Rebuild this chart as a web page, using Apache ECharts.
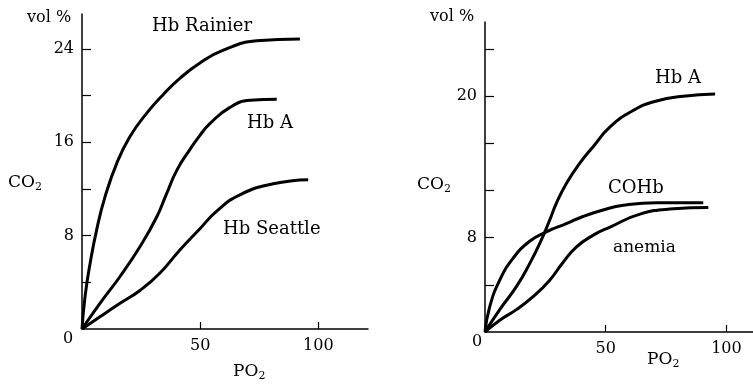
<!DOCTYPE html>
<html>
<head>
<meta charset="utf-8">
<script src="https://cdn.jsdelivr.net/npm/echarts@6/dist/echarts.min.js"></script>
<style>
  html, body { margin: 0; padding: 0; background: #fff; }
  #chart { width: 753px; height: 385px; }
</style>
</head>
<body>
<div id="chart"></div>
<script>
// left panel: Hb variants (PO2 mmHg vs O2 content vol %)
var rainierPo2 = [0, 1.3, 3.4, 6.2, 9.7, 14.7, 20.3, 27.4, 34.4, 41.5, 49.9, 59.8, 73.9, 92.2];
var rainierCo2 = [0, 2.8, 5.6, 8.5, 11.3, 14.2, 16.5, 18.5, 20.1, 21.5, 22.8, 23.9, 24.7, 24.86];
var hbaLeftPo2 = [0, 7.6, 16.1, 24.5, 31.6, 35.8, 40.1, 45.7, 49.9, 54.1, 62.6, 71.1, 82.4];
var hbaLeftCo2 = [0, 2.2, 4.5, 7.05, 9.6, 11.6, 13.6, 15.4, 16.6, 17.6, 19.0, 19.6, 19.7];
var seattlePo2 = [0, 7.6, 16.1, 24.5, 33, 41.5, 49.9, 57, 66.8, 80.9, 95.7];
var seattleCo2 = [0, 1.05, 2.2, 3.3, 4.8, 6.8, 8.6, 10.1, 11.5, 12.45, 12.8];

// right panel: Hb A, COHb, anemia
var hbaRightPo2 = [0, 6.1, 13, 18.5, 23.3, 26.8, 29.5, 33.7, 39.2, 44.7, 51.8, 61.4, 71.1, 82.1, 95.3];
var hbaRightCo2 = [0, 1.9, 3.85, 5.8, 7.8, 9.5, 10.9, 12.6, 14.3, 15.7, 17.4, 18.8, 19.6, 20.0, 20.2];
var cohbPo2 = [0, 1.9, 6.1, 11.6, 18.5, 25.4, 33.7, 40.6, 48.9, 57.3, 71.1, 90.4];
var cohbCo2 = [0, 2.1, 4.4, 6.25, 7.7, 8.5, 9.2, 9.8, 10.35, 10.75, 10.97, 10.97];
var anemiaPo2 = [0, 6.1, 13, 19.9, 26.8, 32.3, 37.8, 44.7, 51.8, 64.2, 78, 92.5];
var anemiaCo2 = [0, 1.0, 1.9, 3.0, 4.4, 5.9, 7.2, 8.2, 8.9, 10.0, 10.45, 10.57];

var leftYTicks = [4, 8, 12, 16, 20, 24];
var leftYLabels = [8, 16, 24];
var rightYTicks = [4, 8, 12, 16, 20, 24];
var rightYLabels = [8, 20];
var xTicks = [50, 100];

function pairs(xs, ys) {
    return xs.map(function (x, i) { return [x, ys[i]]; });
}

var FONT = '"DejaVu Serif", serif';

function curve(name, idx, xs, ys) {
    return {
        name: name,
        type: 'line',
        xAxisIndex: idx,
        yAxisIndex: idx,
        smooth: 0.5,
        showSymbol: false,
        symbol: 'none',
        lineStyle: { color: '#000', width: 3 },
        data: pairs(xs, ys)
    };
}

function xAxis(idx, max) {
    return {
        type: 'value',
        gridIndex: idx,
        min: 0,
        max: max,
        splitLine: { show: false },
        axisLine: { lineStyle: { color: '#000', width: 1.5 } },
        axisTick: { inside: true, length: 7, customValues: xTicks, lineStyle: { color: '#000', width: 1.2 } },
        axisLabel: { customValues: xTicks, color: '#000', fontFamily: FONT, fontSize: 16, margin: 9 }
    };
}

function yAxis(idx, max, ticks, labels) {
    return {
        type: 'value',
        gridIndex: idx,
        min: 0,
        max: max,
        splitLine: { show: false },
        axisLine: { show: true, lineStyle: { color: '#000', width: 1.5 } },
        axisTick: { show: true, inside: true, length: 9, customValues: ticks, lineStyle: { color: '#000', width: 1.2 } },
        axisLabel: { customValues: labels, color: '#000', fontFamily: FONT, fontSize: 16, margin: 8 }
    };
}

function txt(text, x, y, size, align) {
    return {
        type: 'text',
        x: x,
        y: y,
        style: {
            text: text,
            fill: '#000',
            font: size + 'px ' + FONT,
            align: align || 'left',
            verticalAlign: 'middle',
            rich: { s: { fontSize: 11, fontFamily: FONT, padding: [8, 0, 0, 0] } }
        }
    };
}

var chart = echarts.init(document.getElementById('chart'), null, { renderer: 'canvas' });

chart.setOption({
    animation: false,
    backgroundColor: '#fff',
    grid: [
        { left: 82, top: 14, width: 286, height: 315 },
        { left: 485, top: 22, width: 268, height: 310 }
    ],
    xAxis: [xAxis(0, 121), xAxis(1, 111)],
    yAxis: [
        yAxis(0, 27, leftYTicks, leftYLabels),
        yAxis(1, 26.3, rightYTicks, rightYLabels)
    ],
    series: [
        curve('Hb Rainier', 0, rainierPo2, rainierCo2),
        curve('Hb A', 0, hbaLeftPo2, hbaLeftCo2),
        curve('Hb Seattle', 0, seattlePo2, seattleCo2),
        curve('Hb A', 1, hbaRightPo2, hbaRightCo2),
        curve('COHb', 1, cohbPo2, cohbCo2),
        curve('anemia', 1, anemiaPo2, anemiaCo2)
    ],
    graphic: [
        // left panel
        txt('vol %', 27, 18, 16),
        txt('Hb Rainier', 152, 26, 18),
        txt('Hb A', 247, 123, 18),
        txt('Hb Seattle', 223, 229, 18),
        txt('CO{s|2}', 8, 183, 17),
        txt('0', 68, 339, 16, 'center'),
        txt('PO{s|2}', 233, 372, 17),
        // right panel
        txt('vol %', 430, 17, 16),
        txt('Hb A', 655, 78, 18),
        txt('COHb', 608, 188, 18),
        txt('anemia', 613, 248, 17),
        txt('CO{s|2}', 417, 185, 17),
        txt('0', 477, 342, 16, 'center'),
        txt('PO{s|2}', 647, 360, 17)
    ]
});
</script>
</body>
</html>
